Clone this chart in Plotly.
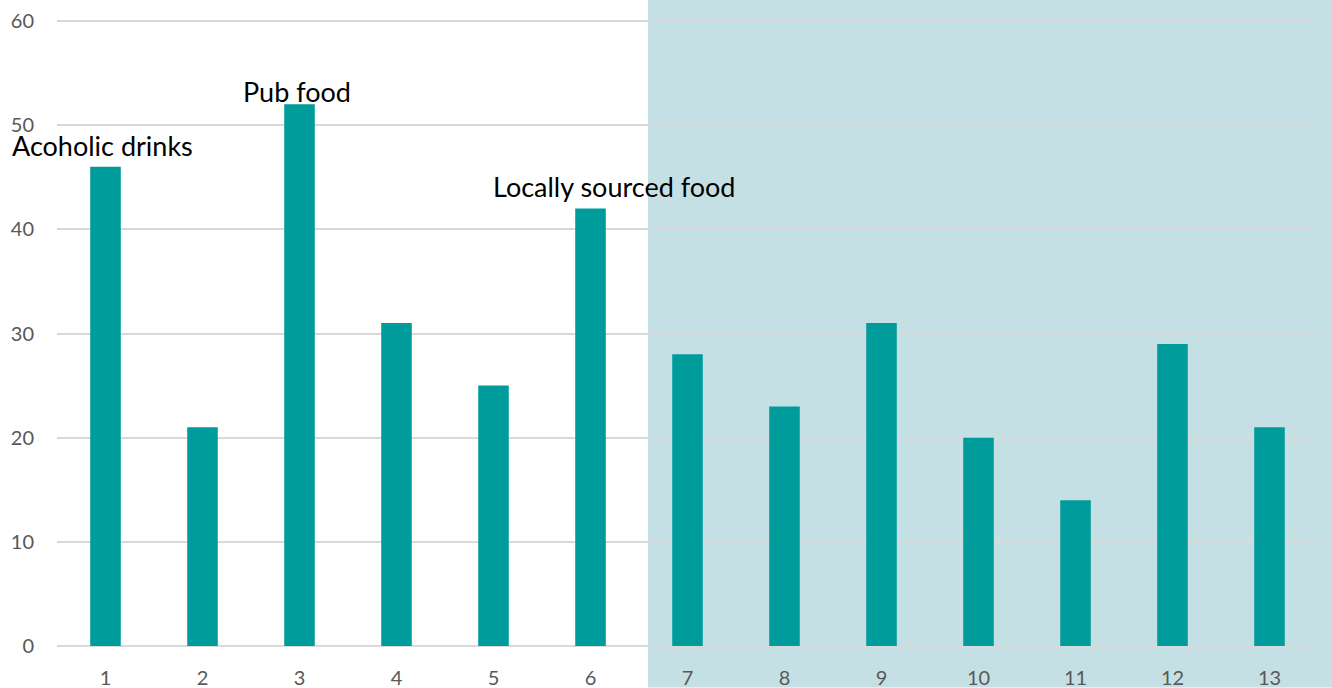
import plotly.graph_objects as go

categories = [str(i) for i in range(1, 14)]
values = [46, 21, 52, 31, 25, 42, 28, 23, 31, 20, 14, 29, 21]
y_ticks = [0, 10, 20, 30, 40, 50, 60]
labels = [("1", 46, "Acoholic drinks", -3, 21), ("3", 52, "Pub food", -3, 13), ("6", 42, "Locally sourced food", 23, 22)]

fig = go.Figure()
fig.add_trace(go.Bar(x=categories, y=values, marker=dict(color="#009B9B", line=dict(width=0)),
                     width=0.315))

W, H = 1332, 688
ml, mr, mt, mb = 57, 14, 20, 41.5
pw, ph = W - ml - mr, H - mt - mb
sx0 = (648 - ml) / pw
sx1 = (W - ml) / pw
sy0 = -(mb) / ph
sy1 = (ph + mt) / ph
fig.add_shape(type="rect", xref="paper", yref="paper", x0=sx0, x1=sx1, y0=sy0, y1=sy1,
              fillcolor="#C5E0E4", line=dict(width=0), layer="below")

for cat, val, txt, xs, ys in labels:
    fig.add_annotation(x=categories.index(cat), y=val, text=txt, showarrow=False, yanchor="middle",
                       xshift=xs, yshift=ys, font=dict(family="Lato", size=27, color="#000000"))

fig.update_layout(
    width=W, height=H,
    margin=dict(l=ml, r=mr, t=mt, b=mb, autoexpand=False),
    paper_bgcolor="white", plot_bgcolor="rgba(0,0,0,0)",
    showlegend=False,
    font=dict(family="Lato", size=18, color="#595959"),
)
fig.update_xaxes(type="category", range=[-0.5, 12.5], showgrid=False, showline=False, automargin=False,
                 ticks="", ticklabelstandoff=18, tickfont=dict(size=20, color="#595959"))
fig.update_yaxes(range=[0, 60.1], tickvals=y_ticks, gridcolor="#D9D9D9", gridwidth=1.5, automargin=False,
                 zeroline=True, zerolinecolor="#D9D9D9", zerolinewidth=1.5, showline=False,
                 ticks="", ticklabelstandoff=22, tickfont=dict(size=20, color="#595959"))

fig.write_html("out.html", config={"displayModeBar": False},
               post_script="document.body.style.margin='0';document.body.style.overflow='hidden';")
